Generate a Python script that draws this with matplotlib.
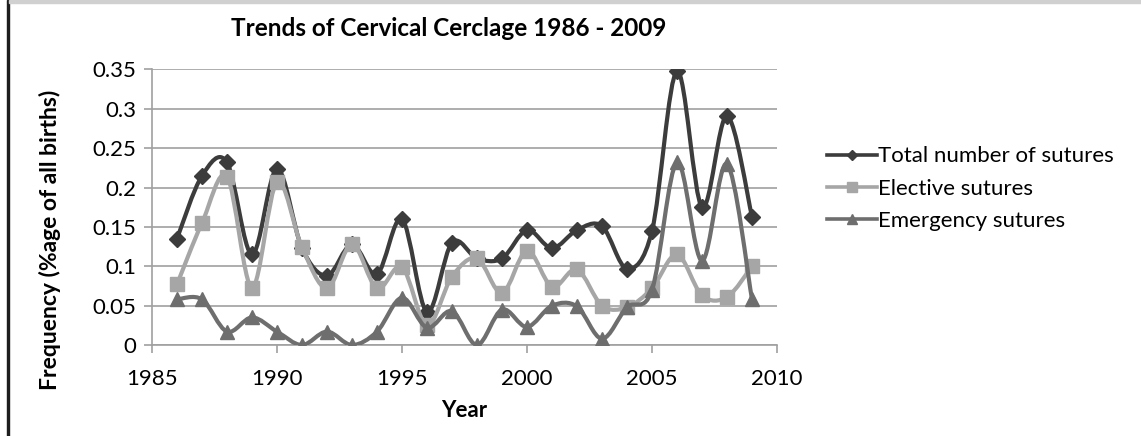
import numpy as np
import matplotlib
matplotlib.use('Agg')
import matplotlib.pyplot as plt
from matplotlib.path import Path
from matplotlib.patches import PathPatch, Rectangle
from matplotlib.lines import Line2D

plt.rcParams['font.family'] = ['Lato', 'DejaVu Sans']

years = list(range(1986, 2010))
total = [0.135, 0.215, 0.232, 0.115, 0.224, 0.123, 0.088, 0.128, 0.090, 0.160,
         0.042, 0.130, 0.110, 0.110, 0.146, 0.123, 0.146, 0.151, 0.097, 0.145,
         0.348, 0.175, 0.291, 0.163]
elective = [0.077, 0.155, 0.214, 0.073, 0.207, 0.124, 0.072, 0.128, 0.072, 0.099,
            0.025, 0.087, 0.110, 0.066, 0.120, 0.074, 0.096, 0.050, 0.048, 0.072,
            0.115, 0.063, 0.061, 0.100]
emergency = [0.058, 0.058, 0.017, 0.035, 0.017, 0.000, 0.017, 0.000, 0.017, 0.060,
             0.022, 0.043, 0.000, 0.045, 0.023, 0.050, 0.049, 0.008, 0.048, 0.070,
             0.232, 0.107, 0.230, 0.058]
labels = ['Total number of sutures', 'Elective sutures', 'Emergency sutures']


def smooth_path(x, y):
    # excel-like smoothed line: cubic bezier segments through the points
    x = np.asarray(x, float)
    y = np.asarray(y, float)
    verts = [(x[0], y[0])]
    codes = [Path.MOVETO]
    n = len(x)
    for i in range(n - 1):
        i0 = max(i - 1, 0)
        i3 = min(i + 2, n - 1)
        c1 = (x[i] + (x[i + 1] - x[i0]) / 6, y[i] + (y[i + 1] - y[i0]) / 6)
        c2 = (x[i + 1] - (x[i3] - x[i]) / 6, y[i + 1] - (y[i3] - y[i]) / 6)
        verts += [c1, c2, (x[i + 1], y[i + 1])]
        codes += [Path.CURVE4] * 3
    return Path(verts, codes)


fig = plt.figure(figsize=(11.41, 4.36), dpi=100)
ax = fig.add_axes([0.1332, 0.2087, 0.5478, 0.6319])

styles = [
    (total, '#3c3c3c', 'D', 8.5),
    (elective, '#a6a6a6', 's', 10),
    (emergency, '#6e6e6e', '^', 10),
]
handles = []
for k, (vals, col, mk, ms) in enumerate(styles):
    patch = PathPatch(smooth_path(years, vals), facecolor='none', edgecolor=col,
                      lw=3.0, zorder=3 + k, capstyle='round', joinstyle='round')
    ax.add_patch(patch)
    ax.plot(years, vals, ls='none', marker=mk, ms=ms, color=col, zorder=3 + k)
    handles.append(Line2D([0], [0], color=col, lw=2.6, marker=mk, ms=ms * 0.65))

ax.set_xlim(1985, 2010)
ax.set_ylim(0, 0.35)
ax.set_xticks([1985, 1990, 1995, 2000, 2005, 2010])
ax.set_yticks([0, 0.05, 0.1, 0.15, 0.2, 0.25, 0.3, 0.35])
ax.set_yticklabels(['0', '0.05', '0.1', '0.15', '0.2', '0.25', '0.3', '0.35'])
ax.yaxis.grid(True, color='#a0a0a0', lw=1.2)
ax.set_axisbelow(True)
for s in ['top', 'right']:
    ax.spines[s].set_visible(False)
ax.spines['left'].set_color('#a0a0a0')
ax.spines['bottom'].set_color('#a0a0a0')
ax.spines['left'].set_linewidth(1.2)
ax.spines['bottom'].set_linewidth(1.2)
ax.tick_params(axis='both', colors='#a0a0a0', labelcolor='black', labelsize=16,
               length=6, width=1.2)
ax.tick_params(axis='x', pad=11)
ax.tick_params(axis='y', pad=5)

ax.set_title('Trends of Cervical Cerclage 1986 - 2009', fontsize=17.5,
             fontweight='bold', pad=24, x=0.474)
ax.set_xlabel('Year', fontsize=16, fontweight='bold', labelpad=8)
ax.set_ylabel('Frequency (%age of all births)', fontsize=16.5, fontweight='bold')
ax.yaxis.set_label_coords(-0.145, 0.38)

leg = fig.legend(handles, labels, loc='upper left', bbox_to_anchor=(0.707, 0.71),
                 frameon=False, fontsize=16, handlelength=2.25, handletextpad=0.05,
                 labelspacing=0.55)

# outer frame bits from the original figure
fig.patches.append(Rectangle((0.006, 0), 0.002, 1, transform=fig.transFigure,
                             color='#1e1e1e', zorder=10))
fig.patches.append(Rectangle((0.008, 0.993), 0.992, 0.007, transform=fig.transFigure,
                             color='#d0d0d0', zorder=10))

fig.savefig('out.png', dpi=100)
